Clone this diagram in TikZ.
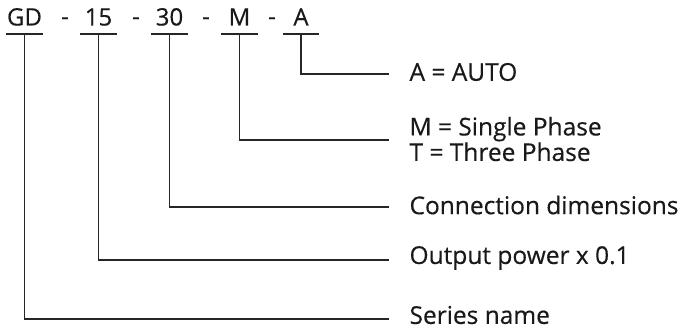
\documentclass[tikz,border=0pt]{standalone}
\usepackage{fontspec}
\setmainfont{Open Sans}
\newfontfamily\mediumfont[FakeBold=0.4]{Open Sans}
\usepackage{amsmath}

\begin{document}
\begin{tikzpicture}[x=1pt, y=-1pt, line width=1.1pt, draw=black!85, text=black!90,
	part/.style={inner sep=0pt, minimum width=35pt, text height=17pt, text depth=8pt, font=\fontsize{24}{26}\mediumfont},
	hyphen/.style={inner sep=0pt, font=\fontsize{24}{26}\mediumfont},
	legend/.style={anchor=west, inner sep=0pt, align=left, font=\fontsize{24.5}{24}\mediumfont}]
	\useasboundingbox (0,0) rectangle (682,331);

	\node[part] (gd) at (24.5,21) {GD};
	\node[hyphen] (h1) at (65,21) {-};
	\node[part] (p15) at (98.5,21) {15};
	\node[hyphen] (h2) at (136,21) {-};
	\node[part] (p30) at (169.5,21) {30};
	\node[hyphen] (h3) at (206,21) {-};
	\node[part] (pm) at (239.5,21) {M};
	\node[hyphen] (h4) at (272,21) {-};
	\node[part] (pa) at (301,21) {A};

	\node[legend] (auto) at (409,72) {A = AUTO};
	\node[legend] (phase) at (409,139) {M = Single Phase\\T = Three Phase};
	\node[legend] (conn) at (409,205) {Connection dimensions};
	\node[legend] (power) at (409,258) {Output power x 0.1};
	\node[legend] (series) at (409,315) {Series name};

	\foreach \p in {gd, p15, p30, pm, pa}
		\draw (\p.south west) -- (\p.south east);

	\draw (pa.south) |- ([xshift=-20pt,yshift=-2pt]auto.west);
	\draw (pm.south) |- ([xshift=-20pt,yshift=-1pt]phase.west);
	\draw (p30.south) |- ([xshift=-20pt,yshift=-2pt]conn.west);
	\draw (p15.south) |- ([xshift=-20pt,yshift=-2pt]power.west);
	\draw (gd.south) |- ([xshift=-20pt,yshift=-4pt]series.west);
\end{tikzpicture}
\end{document}
